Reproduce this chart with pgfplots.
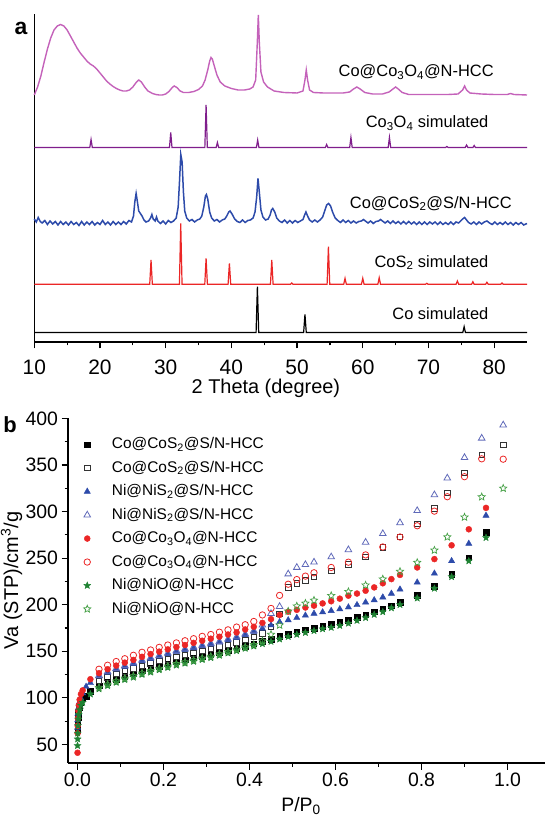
\documentclass[border=0pt]{standalone}
\usepackage{fontspec}
\setmainfont{Liberation Sans}
\usepackage{pgfplots}
\pgfplotsset{compat=1.18}
\usetikzlibrary{plotmarks}

\definecolor{cpink}{RGB}{196,98,186}
\definecolor{cpurple}{RGB}{128,30,140}
\definecolor{cblue}{RGB}{45,75,170}
\definecolor{cred}{RGB}{235,38,38}
\definecolor{cgreen}{RGB}{30,130,50}
\definecolor{cgreenl}{RGB}{70,160,70}
\definecolor{cbluel}{RGB}{95,105,185}

% five-pointed star marks (filled / open)
\pgfdeclareplotmark{starf}{%
  \pgfpathmoveto{\pgfpointpolar{90}{\pgfplotmarksize}}%
  \pgfpathlineto{\pgfpointpolar{126}{0.45\pgfplotmarksize}}%
  \pgfpathlineto{\pgfpointpolar{162}{\pgfplotmarksize}}%
  \pgfpathlineto{\pgfpointpolar{198}{0.45\pgfplotmarksize}}%
  \pgfpathlineto{\pgfpointpolar{234}{\pgfplotmarksize}}%
  \pgfpathlineto{\pgfpointpolar{270}{0.45\pgfplotmarksize}}%
  \pgfpathlineto{\pgfpointpolar{306}{\pgfplotmarksize}}%
  \pgfpathlineto{\pgfpointpolar{342}{0.45\pgfplotmarksize}}%
  \pgfpathlineto{\pgfpointpolar{18}{\pgfplotmarksize}}%
  \pgfpathlineto{\pgfpointpolar{54}{0.45\pgfplotmarksize}}%
  \pgfpathclose\pgfusepathqfillstroke}
\pgfdeclareplotmark{staro}{%
  \pgfpathmoveto{\pgfpointpolar{90}{\pgfplotmarksize}}%
  \pgfpathlineto{\pgfpointpolar{126}{0.45\pgfplotmarksize}}%
  \pgfpathlineto{\pgfpointpolar{162}{\pgfplotmarksize}}%
  \pgfpathlineto{\pgfpointpolar{198}{0.45\pgfplotmarksize}}%
  \pgfpathlineto{\pgfpointpolar{234}{\pgfplotmarksize}}%
  \pgfpathlineto{\pgfpointpolar{270}{0.45\pgfplotmarksize}}%
  \pgfpathlineto{\pgfpointpolar{306}{\pgfplotmarksize}}%
  \pgfpathlineto{\pgfpointpolar{342}{0.45\pgfplotmarksize}}%
  \pgfpathlineto{\pgfpointpolar{18}{\pgfplotmarksize}}%
  \pgfpathlineto{\pgfpointpolar{54}{0.45\pgfplotmarksize}}%
  \pgfpathclose\pgfusepathqstroke}

\begin{document}
\begin{tikzpicture}
\useasboundingbox (0,0) rectangle (545bp,818bp);

\node[font=\fontsize{23}{23}\selectfont\bfseries] at (21bp,790bp) {a};
\node[font=\fontsize{22}{22}\selectfont\bfseries] at (10bp,393bp) {b};

% ---------- panel a: XRD ----------
\begin{axis}[
  at={(34.3bp,476bp)}, anchor=south west, scale only axis,
  width=492.7bp, height=328bp,
  xmin=10, xmax=85, ymin=0, ymax=328,
  clip=false,
  axis x line*=bottom, axis y line*=left,
  axis line style={-, line width=1.2bp},
  ytick=\empty,
  xtick={10,20,30,40,50,60,70,80}, minor x tick num=1,
  tick align=outside, major tick length=6.5bp, minor tick length=3.5bp,
  tick style={line width=1.2bp, black},
  /pgf/number format/assume math mode=true,
  xticklabel style={font=\fontsize{21}{21}\selectfont, yshift=-8bp},
  xlabel={2 Theta (degree)},
  xlabel style={at={(axis description cs:0.47,-0.14)}, anchor=center, font=\fontsize{20}{20}\selectfont},
]
% Co@Co3O4@N-HCC
\addplot[cpink, line width=1.4bp] coordinates {
(10.0,247) (10.5,255) (11.0,266) (11.5,280) (12.0,293) (12.5,304) (13.0,312) (13.5,316)
(14.0,317.5) (14.5,316) (15.0,312) (15.5,306) (16.0,300) (16.5,294) (17.0,289) (17.5,285)
(18.0,281) (18.5,278) (19.0,276) (19.5,273) (20.0,269) (20.5,265) (21.0,261) (21.5,258)
(22.0,255.5) (22.5,253.5) (23.0,252) (23.5,251) (24.0,251) (24.5,252) (25.0,255) (25.5,259.5)
(25.9,262) (26.3,260) (26.8,255) (27.3,251) (28.0,248.5) (28.5,247.5) (29.0,247) (29.5,247)
(30.0,248) (30.5,250.5) (31.0,254.5) (31.3,256) (31.7,254.5) (32.2,251) (32.7,249.5) (33.5,249.5)
(34.3,250.5) (35.0,252.5) (35.6,256) (36.0,262) (36.4,272) (36.7,281) (36.9,284.5) (37.1,283)
(37.4,276) (37.8,267) (38.3,260) (39.0,256) (40.0,253.5) (41.0,252) (42.0,252) (42.8,253)
(43.3,255) (43.7,262) (43.95,300) (44.1,327) (44.25,300) (44.5,270) (44.9,260) (45.5,255)
(46.5,251) (48.0,249.5) (50.0,249) (50.9,251) (51.2,262) (51.4,272) (51.6,262) (51.9,252)
(52.5,249.5) (54.0,249) (55.5,249) (57.0,249) (58.0,250) (58.6,253) (59.1,255) (59.6,253)
(60.3,249.5) (61.5,248) (63.0,248) (64.0,250) (64.6,253) (65.0,255) (65.4,253) (66.0,249.5)
(67.0,247.5) (70.0,247.5) (73.0,247.5) (74.5,248) (75.2,252) (75.5,256) (75.8,252) (76.3,249)
(78.0,248) (80.0,247.5) (82.0,247.5) (82.5,248.5) (83.0,247.5) (85.0,247)
};
% Co3O4 simulated
\addplot[cpurple, line width=1.2bp] coordinates {
(10,194.5) (18.45,194.5) (18.64,202.5) (18.83,194.5)
(30.58,194.5) (30.77,209.5) (30.96,194.5)
(35.96,194.5) (36.15,237) (36.34,194.5)
(37.68,194.5) (37.87,199.5) (38.06,194.5)
(43.81,194.5) (44.0,202) (44.19,194.5)
(54.31,194.5) (54.5,197.5) (54.69,194.5)
(58.01,194.5) (58.2,204.5) (58.39,194.5)
(63.87,194.5) (64.06,204.5) (64.25,194.5)
(72.6,194.5) (72.8,195.5) (73.0,194.5)
(75.6,194.5) (75.8,197) (76.0,194.5)
(76.77,194.5) (76.96,196.5) (77.15,194.5) (85,194.5)
};
% Co@CoS2@S/N-HCC
\addplot[cblue, line width=1.5bp] coordinates {
(10.0,123) (10.3,120) (10.6,124.5) (10.9,120.5) (11.2,119) (11.6,121.5) (12.0,117.5) (12.4,121)
(12.8,118) (13.2,120.5) (13.6,117) (14.0,120.5) (14.4,117.5) (14.8,120) (15.2,117) (15.6,120.5)
(16.0,117.5) (16.4,119.5) (16.8,116.5) (17.2,120.5) (17.6,117) (18.0,120) (18.4,117.5) (18.8,120.5)
(19.2,117) (19.6,119.5) (20.0,117.5) (20.4,121.5) (20.8,117.5) (21.2,120) (21.6,117) (22.0,120.5)
(22.4,117.5) (22.8,120) (23.2,117.5) (23.6,120.5) (24.0,118) (24.4,121.5) (24.8,120) (25.1,126)
(25.3,140) (25.5,148.5) (25.7,140) (25.9,131) (26.1,129) (26.4,126) (26.7,122) (27.0,120)
(27.4,121) (27.7,124) (27.9,127.5) (28.1,123) (28.4,121) (28.6,125) (28.8,121) (29.2,118.5)
(29.6,121) (30.0,118) (30.4,121.5) (30.8,119.5) (31.2,121) (31.6,124) (31.9,135) (32.1,160)
(32.3,187.5) (32.5,180) (32.7,150) (32.9,131) (33.2,124) (33.6,121) (34.0,122.5) (34.4,120)
(34.8,122) (35.2,123) (35.5,126) (35.8,135) (36.05,146) (36.2,147.5) (36.4,143) (36.7,130)
(37.0,124) (37.4,121) (37.8,122.5) (38.2,120) (38.6,122) (39.0,123) (39.3,126) (39.6,130)
(39.8,131) (40.1,128) (40.5,123) (40.9,120.5) (41.3,119.5) (41.7,122) (42.1,119.5) (42.5,121.5)
(42.9,122) (43.3,124) (43.6,130) (43.85,145) (44.05,163.5) (44.25,150) (44.5,132) (44.8,125)
(45.2,122) (45.6,123) (45.9,127) (46.1,132) (46.3,133.5) (46.6,130) (46.9,124) (47.3,121)
(47.7,119.5) (48.1,122) (48.5,119) (48.9,121.5) (49.3,119) (49.7,121.5) (50.1,119.5) (50.5,121)
(50.9,122.5) (51.15,127) (51.35,130) (51.6,126) (51.9,122) (52.3,120) (52.7,122) (53.1,120)
(53.5,122) (53.9,125) (54.2,131) (54.5,137) (54.8,138.5) (55.1,136) (55.4,130) (55.8,124)
(56.2,121.5) (56.6,119.5) (57.0,122) (57.4,119.5) (57.8,121.5) (58.2,119) (58.6,121) (59.0,119)
(59.4,120.5) (59.8,121) (60.1,122.5) (60.4,121) (60.8,119) (61.2,121) (61.6,118.5) (62.0,120.5)
(62.4,121) (62.7,122.5) (63.0,121) (63.4,119) (63.8,121) (64.2,118.5) (64.6,121) (65.0,118.5)
(65.4,120.5) (65.8,118) (66.2,120.5) (66.6,118) (67.0,120.5) (67.4,118) (67.8,120) (68.2,117.5)
(68.6,120) (69.0,117.5) (69.4,120) (69.8,117.5) (70.2,120) (70.6,118) (71.0,120) (71.4,117.5)
(71.8,120) (72.2,117.5) (72.6,119.5) (73.0,117.5) (73.4,120) (73.8,117.5) (74.2,120) (74.6,119)
(74.9,121) (75.2,123) (75.5,124.5) (75.8,122) (76.1,119.5) (76.5,118) (76.9,120) (77.3,117.5)
(77.7,120) (78.1,118) (78.5,120) (78.9,121) (79.3,119) (79.7,117.5) (80.1,120) (80.5,117.5)
(80.9,119.5) (81.3,117.5) (81.7,120) (82.1,117.5) (82.5,119.5) (82.9,117) (83.3,119.5) (83.7,117.5)
(84.1,119.5) (84.5,117) (85.0,118.5)
};
% CoS2 simulated
\addplot[cred, line width=1.2bp] coordinates {
(10,57.7) (27.57,57.7) (27.77,82) (27.97,57.7)
(32.09,57.7) (32.29,118.7) (32.49,57.7)
(35.95,57.7) (36.15,83.7) (36.35,57.7)
(39.5,57.7) (39.7,78.7) (39.9,57.7)
(45.95,57.7) (46.15,82) (46.35,57.7)
(49.0,57.7) (49.2,59) (49.4,57.7)
(54.57,57.7) (54.77,95.3) (54.97,57.7)
(57.1,57.7) (57.3,63.7) (57.5,57.7)
(59.8,57.7) (60.0,63.7) (60.2,57.7)
(62.3,57.7) (62.5,64.3) (62.7,57.7)
(69.55,57.7) (69.75,58.7) (69.95,57.7)
(74.2,57.7) (74.4,61) (74.6,57.7)
(76.56,57.7) (76.76,60.3) (76.96,57.7)
(78.7,57.7) (78.9,59.7) (79.1,57.7)
(81.0,57.7) (81.2,59) (81.4,57.7) (85,57.7)
};
% Co simulated
\addplot[black, line width=1.2bp] coordinates {
(10,9.5) (43.76,9.5) (43.96,55.3) (44.16,9.5)
(51.0,9.5) (51.2,27.7) (51.4,9.5)
(75.23,9.5) (75.43,15.3) (75.63,9.5) (85,9.5)
};
\begin{scope}[font=\fontsize{16.5}{17}\selectfont]
\node[anchor=base east] at (axis cs:80.46,265.3) {Co@Co\textsubscript{3}O\textsubscript{4}@N-HCC};
\node[anchor=base east] at (axis cs:79.65,214.3) {Co\textsubscript{3}O\textsubscript{4} simulated};
\node[anchor=base east] at (axis cs:83.2,133.7) {Co@CoS\textsubscript{2}@S/N-HCC};
\node[anchor=base east] at (axis cs:79.65,74.7) {CoS\textsubscript{2} simulated};
\node[anchor=base east] at (axis cs:79.65,22) {Co simulated};
\end{scope}
\end{axis}

% ---------- panel b: N2 isotherms ----------
\begin{axis}[
  at={(68bp,55bp)}, anchor=south west, scale only axis,
  width=482.5bp, height=344.5bp,
  xmin=-0.0221, xmax=1.1, ymin=30, ymax=400,
  axis x line*=bottom, axis y line*=left,
  axis line style={-, line width=1.2bp},
  xtick={0,0.2,0.4,0.6,0.8,1.0}, minor x tick num=1,
  ytick={50,100,150,200,250,300,350,400}, minor y tick num=1,
  tick align=outside, major tick length=6.5bp, minor tick length=3.5bp,
  tick style={line width=1.2bp, black},
  /pgf/number format/assume math mode=true,
  ticklabel style={font=\fontsize{19.5}{19.5}\selectfont},
  xticklabel style={/pgf/number format/.cd, fixed, fixed zerofill, precision=1},
  xlabel={P/P\textsubscript{0}},
  xlabel style={at={(axis description cs:0.483,-0.125)}, anchor=center, font=\fontsize{19.5}{19.5}\selectfont},
  ylabel={Va (STP)/cm\textsuperscript{3}/g},
  ylabel style={at={(axis description cs:-0.117,0.53)}, anchor=center, inner sep=0pt, font=\fontsize{20}{20}\selectfont},
  legend cell align=left,
  legend style={draw=none, fill=none, at={(axis description cs:0.032,0.946)}, anchor=north west,
    font=\fontsize{15.5}{17}\selectfont, inner sep=0pt, row sep=9bp, column sep=21bp,
    nodes={inner sep=0pt, text height=11.5bp, text depth=3bp}},
]
\addplot[only marks, mark=square*, black, mark size=2.8bp] coordinates {
(0.0002,65) (0.0005,72) (0.001,79) (0.002,85) (0.004,90) (0.007,95) (0.012,99) (0.02,102) (0.03,107)
(0.05,113) (0.07,117) (0.09,120) (0.11,123) (0.13,126) (0.15,129) (0.17,131.5) (0.19,134)
(0.21,136.5) (0.23,139) (0.25,141) (0.27,143) (0.29,145) (0.31,147) (0.33,149) (0.35,151)
(0.37,153) (0.39,155.5) (0.41,158) (0.43,160.5) (0.45,163) (0.47,166) (0.49,168.5) (0.51,171)
(0.53,173) (0.55,175) (0.57,177) (0.59,179) (0.61,181.3) (0.63,183.6) (0.65,186.5) (0.67,189.4)
(0.69,192.5) (0.71,195.8) (0.73,199) (0.75,203) (0.79,210.4) (0.83,219.7) (0.87,232.8)
(0.91,250.6) (0.95,278)
};
\addlegendentry{Co@CoS\textsubscript{2}@S/N-HCC}
\addplot[only marks, mark=square, black!80, mark size=2.8bp, mark options={line width=0.8bp}] coordinates {
(0.99,371.6) (0.94,361) (0.90,341.4) (0.86,320) (0.83,303.3) (0.79,287) (0.75,272.7) (0.71,261.3)
(0.67,251.3) (0.63,243.5) (0.59,236.4) (0.55,230) (0.53,226.4) (0.51,223) (0.49,218.6) (0.47,190)
(0.45,176) (0.43,169) (0.41,165.5) (0.39,162) (0.37,159.5) (0.35,157) (0.33,155) (0.31,152.5)
(0.29,150.5) (0.27,148) (0.25,146) (0.23,144) (0.21,141.5) (0.19,139.5) (0.17,137) (0.15,134.5)
(0.13,131.5) (0.11,128.5) (0.09,125.5) (0.07,122) (0.05,118)
};
\addlegendentry{Co@CoS\textsubscript{2}@S/N-HCC}
\addplot[only marks, mark=triangle*, cblue, mark size=3.6bp] coordinates {
(0.0002,68) (0.0005,76) (0.001,83) (0.002,89) (0.004,95) (0.007,100) (0.012,105) (0.02,112) (0.03,116)
(0.05,123) (0.07,127) (0.09,130.5) (0.11,133.5) (0.13,136.5) (0.15,139.5) (0.17,142) (0.19,144.5)
(0.21,147) (0.23,149.5) (0.25,151.5) (0.27,153.5) (0.29,155.5) (0.31,157.5) (0.33,159.5) (0.35,162)
(0.37,164.5) (0.39,167.5) (0.41,171) (0.43,174.5) (0.45,178) (0.47,181.5) (0.49,183.5) (0.51,186)
(0.53,188.5) (0.55,190.5) (0.57,192) (0.59,193.5) (0.61,195.3) (0.63,197.3) (0.65,199.8) (0.67,202.6)
(0.69,205) (0.71,208) (0.73,212) (0.75,216.5) (0.79,224) (0.83,233.6) (0.87,247) (0.91,265.6)
(0.95,295.8)
};
\addlegendentry{Ni@NiS\textsubscript{2}@S/N-HCC}
\addplot[only marks, mark=triangle, cbluel, mark size=3.8bp, mark options={line width=0.8bp}] coordinates {
(0.99,393) (0.94,378.8) (0.90,358) (0.86,336) (0.83,318) (0.79,301) (0.75,288) (0.71,276.3)
(0.67,267) (0.63,259) (0.59,251.3) (0.55,245.7) (0.53,243) (0.51,240) (0.49,233) (0.47,198)
(0.45,190.5) (0.43,178) (0.41,172) (0.39,168.5) (0.37,165.5) (0.35,163) (0.33,160.5) (0.31,158.5)
(0.29,156.5) (0.27,154.5) (0.25,152.5) (0.23,150.5) (0.21,148) (0.19,145.5) (0.17,143) (0.15,140.5)
(0.13,137.5) (0.11,134.5) (0.09,131.5) (0.07,128) (0.05,124)
};
\addlegendentry{Ni@NiS\textsubscript{2}@S/N-HCC}
\addplot[only marks, mark=*, cred, mark size=3bp] coordinates {
(0.0001,41) (0.0003,62) (0.0005,70) (0.001,78) (0.002,86) (0.003,92) (0.005,98) (0.008,104)
(0.012,108) (0.03,120)
(0.05,126.5) (0.07,130.7) (0.09,134.6) (0.11,137.8) (0.13,140.7) (0.15,144) (0.17,147) (0.19,149.6)
(0.21,152) (0.23,154.5) (0.25,156.7) (0.27,159) (0.29,161.3) (0.31,163.5) (0.33,165.6) (0.35,168)
(0.37,170.2) (0.39,173.4) (0.41,176.3) (0.43,180.5) (0.45,184.5) (0.47,189) (0.49,192.5) (0.51,194.5)
(0.53,197) (0.55,199) (0.57,201.4) (0.59,203.7) (0.61,206.5) (0.63,209.7) (0.65,212) (0.67,215)
(0.69,218.6) (0.71,223) (0.73,227.5) (0.75,232) (0.79,240) (0.83,249) (0.87,263.8) (0.91,281)
(0.95,304)
};
\addlegendentry{Co@Co\textsubscript{3}O\textsubscript{4}@N-HCC}
\addplot[only marks, mark=o, cred, mark size=3.2bp, mark options={line width=0.8bp}] coordinates {
(0.99,356.3) (0.94,356.7) (0.90,337.5) (0.86,316) (0.83,300.5) (0.79,284.8) (0.75,272.7) (0.71,262)
(0.67,253.5) (0.63,245.7) (0.59,240) (0.55,234.3) (0.53,230.7) (0.51,227) (0.49,222) (0.47,210)
(0.45,196) (0.43,189) (0.41,182) (0.39,178.5) (0.37,176) (0.35,173) (0.33,170.5) (0.31,168)
(0.29,166) (0.27,163.5) (0.25,161.3) (0.23,159) (0.21,156.7) (0.19,154.2) (0.17,151.4) (0.15,148.9)
(0.13,145.7) (0.11,142) (0.09,139) (0.07,135) (0.05,130.7)
};
\addlegendentry{Co@Co\textsubscript{3}O\textsubscript{4}@N-HCC}
\addplot[only marks, mark=starf, cgreen, mark size=3.6bp, mark options={line width=0.4bp}] coordinates {
(0.0001,48.6) (0.0003,55.7) (0.0005,62) (0.001,70) (0.002,77) (0.003,82) (0.005,87) (0.008,92)
(0.012,95) (0.03,104)
(0.05,109.5) (0.07,113) (0.09,116.5) (0.11,119.5) (0.13,122) (0.15,125) (0.17,127.5) (0.19,130)
(0.21,132.5) (0.23,135) (0.25,137) (0.27,139) (0.29,141) (0.31,143) (0.33,145.5) (0.35,148)
(0.37,150.5) (0.39,153) (0.41,155.5) (0.43,158) (0.45,160.5) (0.47,163) (0.49,165.7) (0.51,168)
(0.53,170) (0.55,172) (0.57,174) (0.59,175.5) (0.61,177.5) (0.63,180) (0.65,183) (0.67,186)
(0.69,189.4) (0.71,192.3) (0.73,196.5) (0.75,200) (0.79,207) (0.83,217.5) (0.87,230) (0.91,247)
(0.95,272)
};
\addlegendentry{Ni@NiO@N-HCC}
\addplot[only marks, mark=staro, cgreenl, mark size=3.8bp, mark options={line width=0.7bp}] coordinates {
(0.99,325) (0.94,315.8) (0.90,294) (0.86,272.7) (0.83,258.5) (0.79,245.3) (0.75,235.7) (0.71,227.5)
(0.67,221) (0.63,214) (0.59,209.7) (0.55,204.7) (0.53,201.5) (0.51,198.5) (0.49,193) (0.47,178)
(0.45,168) (0.43,161) (0.41,157) (0.39,154.5) (0.37,152) (0.35,149.5) (0.33,147) (0.31,144.5)
(0.29,142.5) (0.27,140.5) (0.25,138.5) (0.23,136.5) (0.21,134) (0.19,131.5) (0.17,129) (0.15,126.5)
(0.13,123.5) (0.11,121) (0.09,118) (0.07,114.5) (0.05,111)
};
\addlegendentry{Ni@NiO@N-HCC}
\end{axis}
\end{tikzpicture}
\end{document}
